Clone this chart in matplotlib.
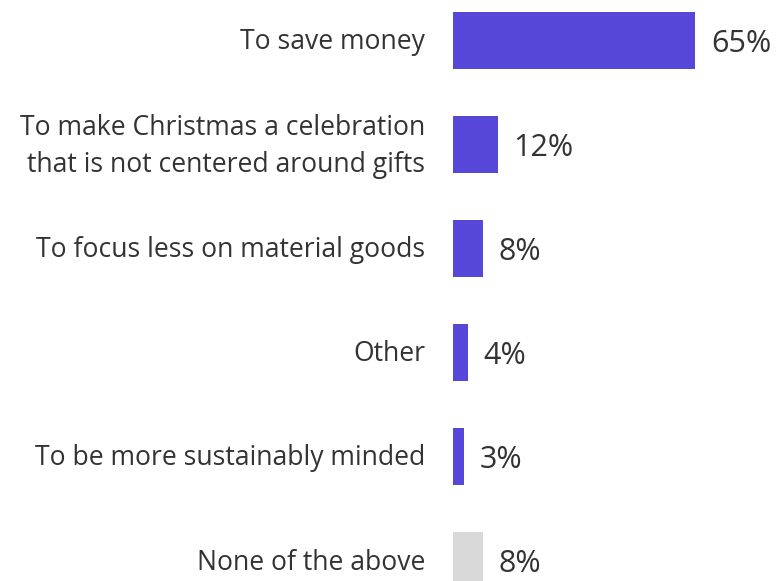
import matplotlib.pyplot as plt
import matplotlib.transforms as mtransforms

# survey answers, top to bottom
reasons = [
    "To save money",
    "To make Christmas a celebration\nthat is not centered around gifts",
    "To focus less on material goods",
    "Other",
    "To be more sustainably minded",
    "None of the above",
]
shares = [65, 12, 8, 4, 3, 8]
bar_colors = ["#5647D8", "#5647D8", "#5647D8", "#5647D8", "#5647D8", "#D9D9D9"]

plt.rcParams["font.family"] = ["Open Sans", "DejaVu Sans"]

W, H = 777, 581
fig = plt.figure(figsize=(W / 100, H / 100), dpi=100)
ax = fig.add_axes([453 / W, 0, 1 - 453 / W, 1])

ypos = list(range(len(shares)))
ax.barh(ypos, shares, height=0.55, color=bar_colors)

ax.set_xlim(0, 324 / 3.72)
ax.set_ylim(5.197, -0.389)
ax.axis("off")

# category names to the left of the bars
lab_trans = ax.get_yaxis_transform() + mtransforms.ScaledTranslation(-28 / 100, -2 / 100, fig.dpi_scale_trans)
for y, name in zip(ypos, reasons):
    ax.text(0, y, name, transform=lab_trans, ha="right", va="center",
            fontsize=19.1, color="#333333", linespacing=1.4)

# percentage after each bar
for y, v in zip(ypos, shares):
    ax.annotate(f"{v}%", (v, y), xytext=(11.5, -2.5), textcoords="offset points",
                ha="left", va="center", fontsize=22, color="#333333")

fig.savefig("out.png", dpi=100)
